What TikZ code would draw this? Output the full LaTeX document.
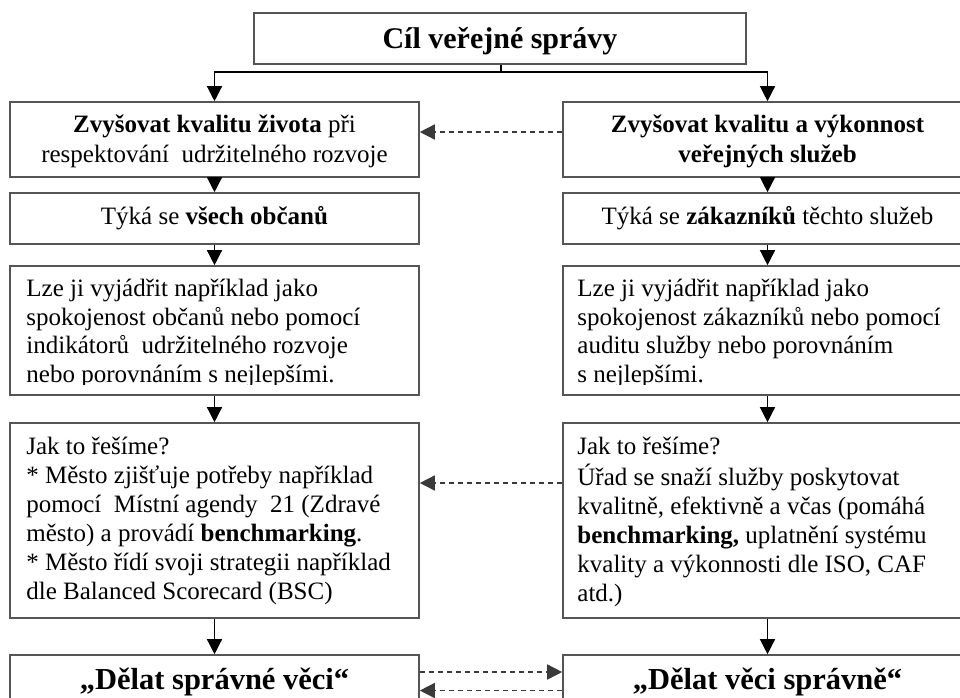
\documentclass[tikz,border=0pt]{standalone}
\usepackage{fontspec}
\setmainfont{Liberation Serif}
\usetikzlibrary{arrows.meta,calc}
\definecolor{boxline}{HTML}{555555}
\definecolor{dashline}{HTML}{3a3a3a}
\tikzset{
  box/.style={draw=boxline, line width=1.6pt, rectangle, minimum width=409pt, inner sep=0pt},
  txt/.style={inner sep=0pt, font=\fontsize{25}{29}\selectfont},
  bigtxt/.style={font=\fontsize{30.5}{35}\selectfont\bfseries, text height=22pt, text depth=3pt},
  arr/.style={draw=black, line width=1.3pt, -{Triangle[length=15pt,width=15pt]}},
  dasharr/.style={draw=dashline, line width=1.5pt, dash pattern=on 5.5pt off 3.5pt, -{Triangle[length=15pt,width=15pt]}}
}
\begin{document}
\begin{tikzpicture}[x=1pt,y=-1pt]
\useasboundingbox (0,0) rectangle (960,697);
\clip (0,0) rectangle (960,697);
\fill[white] (0,0) rectangle (960,697);
% title
\node[box, bigtxt, font=\fontsize{30}{35}\selectfont\bfseries, minimum width=492pt, minimum height=51pt] (title) at (500,38.5) {Cíl veřejné správy};
% row 1
\node[box, minimum height=75pt] (l1) at (214.5,139.5) {};
\node[box, minimum height=75pt] (r1) at (767.5,139.5) {};
\node[txt, anchor=north, align=center, font=\fontsize{25}{30}\selectfont] (l1t) at ([yshift=-10pt]l1.north) {\strut\textbf{Zvyšovat kvalitu života} při\\respektování\ \ udržitelného rozvoje};
\node[txt, anchor=north, align=center, font=\fontsize{25}{30}\selectfont] (r1t) at ([yshift=-10pt]r1.north) {\strut\textbf{Zvyšovat kvalitu a výkonnost}\\\textbf{veřejných služeb}};
% row 2
\node[box, txt, minimum height=51pt, text height=17pt, text depth=6pt] (l2) at (214.5,218.5) {Týká se \textbf{všech občanů}};
\node[box, txt, minimum height=51pt, text height=17pt, text depth=6pt] (r2) at (767.5,218.5) {Týká se \textbf{zákazníků} těchto služeb};
% row 3
\node[box, minimum height=129pt] (l3) at (214.5,330.5) {};
\node[box, minimum height=129pt] (r3) at (767.5,330.5) {};
\begin{scope}
\clip ([xshift=2pt,yshift=-2pt]l3.north west) rectangle ([yshift=11pt]l3.south east);
\node[txt, anchor=north west, align=left, font=\fontsize{25}{28.7}\selectfont] (l3t) at ([xshift=17pt,yshift=-10.9pt]l3.north west) {\strut Lze ji vyjádřit například jako\\spokojenost občanů nebo pomocí\\indikátorů\ \ udržitelného rozvoje\\nebo porovnáním s nejlepšími.};
\end{scope}
\begin{scope}
\clip ([xshift=2pt,yshift=-2pt]r3.north west) rectangle ([yshift=11pt]r3.south east);
\node[txt, anchor=north west, align=left, font=\fontsize{25}{28.7}\selectfont] (r3t) at ([xshift=15pt,yshift=-10.9pt]r3.north west) {\strut Lze ji vyjádřit například jako\\spokojenost zákazníků nebo pomocí\\auditu služby nebo porovnáním\\s nejlepšími.};
\end{scope}
% row 4
\node[box, minimum height=195pt] (l4) at (214.5,520.5) {};
\node[box, minimum height=195pt] (r4) at (767.5,520.5) {};
\node[txt, anchor=north west, align=left] (l4t) at ([xshift=17pt,yshift=-11.7pt]l4.north west) {\strut Jak to řešíme?\\* Město zjišťuje potřeby například\\pomocí\ \ Místní agendy\ \ 21 (Zdravé\\město) a provádí \textbf{benchmarking}.\\* Město řídí svoji strategii například\\dle Balanced Scorecard (BSC)};
\node[txt, anchor=north west, align=left] (r4t) at ([xshift=15pt,yshift=-11.7pt]r4.north west) {\strut Jak to řešíme?\\Úřad se snaží služby poskytovat\\kvalitně, efektivně a včas (pomáhá\\\textbf{benchmarking,} uplatnění systému\\kvality a výkonnosti dle ISO, CAF\\atd.)};
% row 5
\node[box, bigtxt, minimum height=50pt] (l5) at (214.5,680) {„Dělat správné věci“};
\node[box, bigtxt, minimum height=50pt] (r5) at (767.5,680) {„Dělat věci správně“};
% connectors
\coordinate (split) at (501,72);
\draw[line width=1.3pt] (title.south -| split) -- (split);
\draw[arr] (split) -| (l1.north);
\draw[arr] (split) -| (r1.north);
\draw[arr] (l1.south) -- (l2.north);
\draw[arr] (r1.south) -- (r2.north);
\draw[arr] (l2.south) -- (l3.north);
\draw[arr] (r2.south) -- (r3.north);
\draw[arr] (l3.south) -- (l4.north);
\draw[arr] (r3.south) -- (r4.north);
\draw[arr] (l4.south) -- (l5.north);
\draw[arr] (r4.south) -- (r5.north);
% dashed
\draw[dasharr] ([yshift=7.5pt]r1.west) -- ([yshift=7.5pt]l1.east);
\draw[dasharr] ([yshift=37.5pt]r4.west) -- ([yshift=37.5pt]l4.east);
\draw[dasharr] ([yshift=8pt]l5.east) -- ([yshift=8pt]r5.west);
\draw[dasharr] ([yshift=-10.5pt]r5.west) -- ([yshift=-10.5pt]l5.east);
\end{tikzpicture}
\end{document}
